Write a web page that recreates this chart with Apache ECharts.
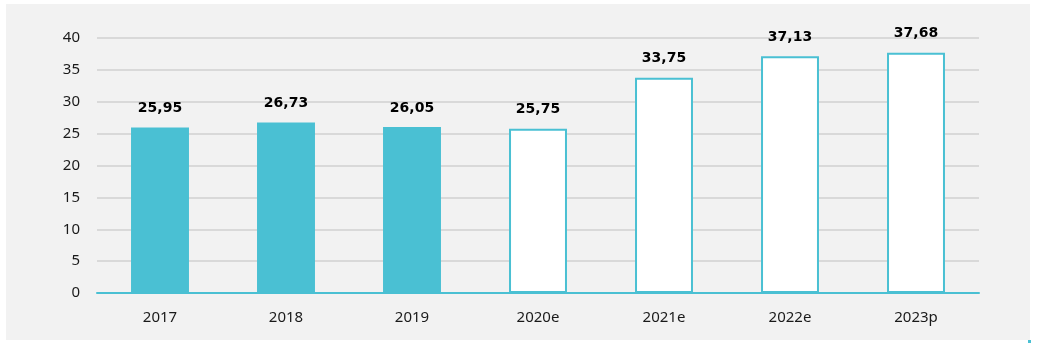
<!DOCTYPE html>
<html>
<head>
<meta charset="utf-8">
<script src="https://cdn.jsdelivr.net/npm/echarts@6/dist/echarts.min.js"></script>
<style>
  html, body { margin: 0; padding: 0; background: #ffffff; }
  #chart { width: 1040px; height: 344px; }
</style>
</head>
<body>
<div id="chart"></div>
<script>
// Years: actual figures, then estimates (e) and projection (p)
const categories = ['2017', '2018', '2019', '2020e', '2021e', '2022e', '2023p'];
const values = [25.95, 26.73, 26.05, 25.75, 33.75, 37.13, 37.68];
const isActual = [true, true, true, false, false, false, false];
const yTicks = [0, 5, 10, 15, 20, 25, 30, 35, 40];

const TEAL = '#4ac0d3';

const barData = values.map((v, i) => ({
  value: v,
  itemStyle: isActual[i]
    ? { color: TEAL, borderWidth: 0 }
    : { color: '#ffffff', borderColor: TEAL, borderWidth: 2 }
}));

const chart = echarts.init(document.getElementById('chart'), null, { renderer: 'canvas' });
chart.setOption({
  animation: false,
  backgroundColor: '#ffffff',
  graphic: [
    { type: 'rect', z: -10, shape: { x: 6, y: 4, width: 1024, height: 336 }, style: { fill: '#f2f2f2' } },
    { type: 'rect', shape: { x: 1028, y: 340, width: 3, height: 3 }, style: { fill: TEAL } }
  ],
  grid: { left: 97, right: 61, top: 38, bottom: 51 },
  xAxis: {
    type: 'category',
    data: categories,
    z: 5,
    axisLine: { lineStyle: { color: TEAL, width: 2 } },
    axisTick: { show: false },
    axisLabel: { color: '#1a1a1a', fontFamily: 'Noto Sans', fontSize: 15, margin: 17 }
  },
  yAxis: {
    type: 'value',
    min: yTicks[0],
    max: yTicks[yTicks.length - 1],
    interval: 5,
    axisLine: { show: false },
    axisTick: { show: false },
    splitLine: { lineStyle: { color: '#d9d9d9', width: 2 } },
    axisLabel: { color: '#1a1a1a', fontFamily: 'Noto Sans', fontSize: 15, margin: 17 }
  },
  series: [{
    type: 'bar',
    data: barData,
    barWidth: '46%',
    label: {
      show: true,
      position: 'top',
      distance: 12,
      color: '#000000',
      fontFamily: 'DejaVu Sans',
      fontWeight: 'bold',
      fontSize: 14,
      formatter: p => p.value.toFixed(2).replace('.', ',')
    }
  }]
});
</script>
</body>
</html>
